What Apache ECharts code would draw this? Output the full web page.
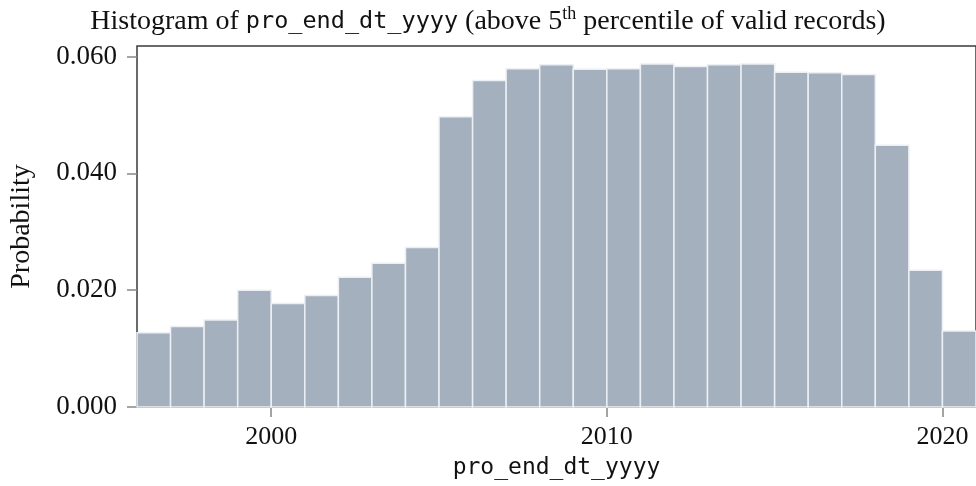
<!DOCTYPE html>
<html>
<head>
<meta charset="utf-8">
<script src="https://cdn.jsdelivr.net/npm/echarts@6/dist/echarts.min.js"></script>
<style>html,body{margin:0;padding:0;background:#fff}#c{width:976px;height:486px}</style>
</head>
<body>
<div id="c"></div>
<script>
// Bin start years (each bin one year wide)
const binStarts = [1996,1997,1998,1999,2000,2001,2002,2003,2004,2005,2006,2007,2008,2009,2010,2011,2012,2013,2014,2015,2016,2017,2018,2019,2020];
const binWidth = 1;
// Probability per bin
const probabilities = [0.0127,0.0138,0.0149,0.0200,0.0177,0.0191,0.0222,0.0246,0.0273,0.0497,0.0559,0.0579,0.0586,0.0578,0.0579,0.0587,0.0583,0.0586,0.0587,0.0573,0.0572,0.0569,0.0448,0.0234,0.0130];
const yTicks = [0, 0.02, 0.04, 0.06];
const xTicks = [2000, 2010, 2020];

const serif = '"Liberation Serif", "DejaVu Serif", serif';
const mono = '"DejaVu Sans Mono", "Liberation Mono", monospace';

const data = binStarts.map((s, i) => [s, s + binWidth, probabilities[i]]);

const chart = echarts.init(document.getElementById('c'), null, {renderer: 'canvas'});
chart.setOption({
  animation: false,
  title: {
    left: 'center', top: 0,
    text: '{s|Histogram of }{m|pro_end_dt_yyyy}{s| (above 5}{sup|th}{s| percentile of valid records)}',
    textStyle: {
      fontWeight: 'normal',
      rich: {
        s: {fontFamily: serif, fontSize: 28, fontWeight: 'normal', color: '#111', lineHeight: 34},
        m: {fontFamily: mono, fontSize: 23.5, fontWeight: 'normal', color: '#111', lineHeight: 34},
        sup: {fontFamily: serif, fontSize: 18, fontWeight: 'normal', color: '#111', verticalAlign: 'top', lineHeight: 34, padding: [0,0,10,0]}
      }
    }
  },
  grid: {left: 137, right: -2, top: 46, bottom: 79, show: true, borderColor: '#3a3a3a', borderWidth: 1.5, backgroundColor: 'transparent'},
  xAxis: {
    type: 'value', min: 1996, max: 2021,
    name: 'pro_end_dt_yyyy', nameLocation: 'middle', nameGap: 50,
    nameTextStyle: {fontFamily: mono, fontSize: 23, color: '#111'},
    axisLine: {show: false},
    axisTick: {show: true, length: 10, lineStyle: {color: '#888', width: 1.5}, customValues: xTicks},
    axisLabel: {fontFamily: serif, fontSize: 26, color: '#111', margin: 17, customValues: xTicks,
      formatter: v => String(v)},
    splitLine: {show: false}
  },
  yAxis: {
    type: 'value', min: 0, max: 0.0618,
    name: 'Probability', nameLocation: 'middle', nameGap: 101, nameRotate: 90,
    nameTextStyle: {fontFamily: serif, fontSize: 28, color: '#111'},
    axisLine: {show: false},
    axisTick: {show: true, length: 10, lineStyle: {color: '#888', width: 1.5}, customValues: yTicks},
    axisLabel: {fontFamily: serif, fontSize: 27, color: '#111', margin: 20, customValues: yTicks,
      formatter: v => v.toFixed(3)},
    splitLine: {show: false}
  },
  series: [{
    type: 'custom',
    data: data,
    encode: {x: [0, 1], y: 2},
    renderItem: function (params, api) {
      const p0 = api.coord([api.value(0), api.value(2)]);
      const p1 = api.coord([api.value(1), 0]);
      return {
        type: 'rect',
        shape: {x: p0[0], y: p0[1], width: p1[0] - p0[0], height: p1[1] - p0[1]},
        style: {fill: '#a4b0bd', stroke: '#eceff3', lineWidth: 1.5}
      };
    }
  }]
});
</script>
</body>
</html>
